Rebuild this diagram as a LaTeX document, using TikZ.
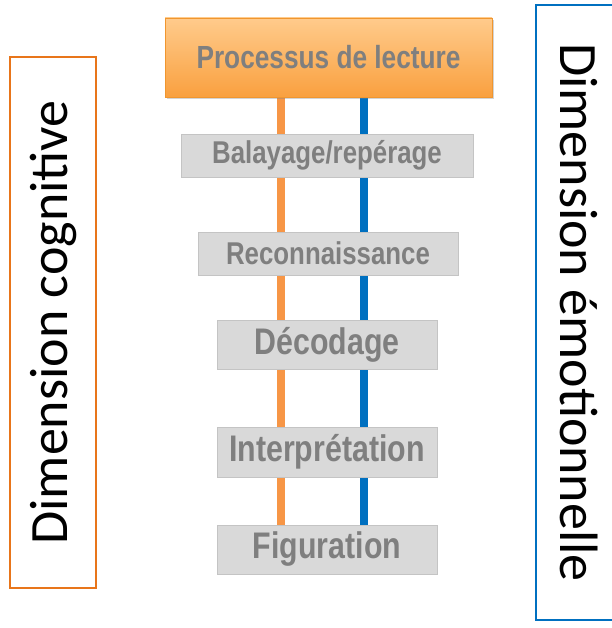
\documentclass[tikz,border=0pt]{standalone}
\usepackage{fontspec}
\newfontfamily\narrowfont[FakeStretch=0.82]{Liberation Sans}
\newfontfamily\calibrifont{Carlito}
\usepackage{xcolor}
\usetikzlibrary{backgrounds,shadows}

\definecolor{stagegray}{HTML}{D9D9D9}
\definecolor{stageedge}{HTML}{C4C4C4}
\definecolor{labelgray}{HTML}{7F7F7F}
\definecolor{proctop}{HTML}{FFCB8C}
\definecolor{procbot}{HTML}{F9A03F}
\definecolor{procedge}{HTML}{F0962F}
\definecolor{cogorange}{HTML}{E8751A}
\definecolor{lineorange}{HTML}{F79646}
\definecolor{emoblue}{HTML}{0070C0}

\begin{document}
\begin{tikzpicture}[
  x=1pt, y=1pt,
  procbox/.style={draw=procedge, top color=proctop, bottom color=procbot, text=labelgray,
    font=\narrowfont\bfseries\fontsize{32}{38}\selectfont, minimum width=327pt, minimum height=79pt,
    drop shadow={shadow xshift=2pt, shadow yshift=-2pt, opacity=0.35}},
  stagebox/.style={draw=stageedge, fill=stagegray, text=labelgray, inner sep=0pt, line width=0.8pt},
  smallstage/.style={stagebox, font=\narrowfont\bfseries\fontsize{31.5}{36}\selectfont, minimum height=43pt},
  bigstage/.style={stagebox, font=\narrowfont\bfseries\fontsize{37}{42}\selectfont, minimum width=220pt, minimum height=49pt},
  dimbox/.style={draw, line width=2.2pt, font=\calibrifont\fontsize{54}{60}\selectfont, inner sep=0pt, minimum height=86pt},
  cogline/.style={line width=8pt, lineorange},
  emoline/.style={line width=8pt, emoblue}
]
\useasboundingbox (0,0) rectangle (611,-628);

% reading process
\node[procbox] (proc) at (328.5,-57.5) {Processus de lecture};
\node[smallstage, minimum width=292pt] (bal) at (327,-155.5) {Balayage/repérage};
\node[smallstage, minimum width=260pt] (rec) at (328,-253.5) {Reconnaissance};
\node[bigstage] (dec) at (327,-344.5) {Décodage};
\node[bigstage, minimum height=50pt] (inte) at (327,-452) {Interprétation};
\node[bigstage] (fig) at (327,-549.5) {Figuration};

% the two dimensions
\node[dimbox, draw=cogorange, rotate=90, minimum width=531pt] (cogn) at (53,-322.5) {Dimension cognitive};
\node[dimbox, draw=emoblue, rotate=-90, minimum width=615pt] (emot) at (579,-312.5) {Dimension émotionnelle};

\coordinate (cogtop) at (281,-97);
\coordinate (emotop) at (364,-97);
\begin{scope}[on background layer]
\draw[cogline] (cogtop |- proc.south) -- (cogtop |- fig.north);
\draw[emoline] (emotop |- proc.south) -- (emotop |- fig.north);
\end{scope}
\end{tikzpicture}
\end{document}
